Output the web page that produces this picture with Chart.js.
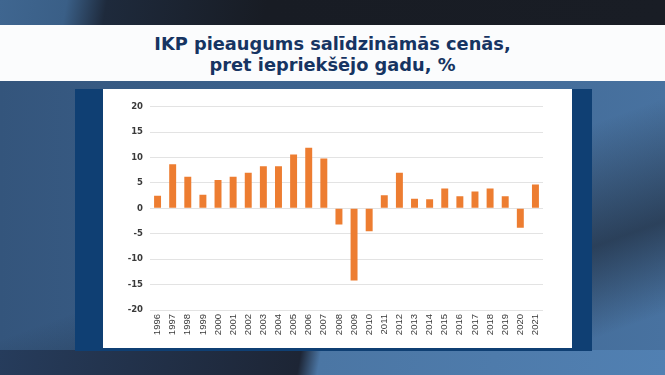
<!DOCTYPE html>
<html>
<head>
<meta charset="utf-8">
<script src="https://cdn.jsdelivr.net/npm/chart.js@4/dist/chart.umd.min.js"></script>
<style>
  html, body { margin: 0; padding: 0; }
  body {
    width: 665px; height: 375px; overflow: hidden; position: relative;
    background:
      linear-gradient(160deg, rgba(20,25,35,0) 55%, rgba(20,25,35,0.55) 75%, rgba(20,25,35,0) 90%),
      linear-gradient(90deg, #34557c 0%, #3c628d 40%, #4872a0 100%);
  }
  .topband {
    position: absolute; left: 0; top: 0; width: 665px; height: 25px;
    background: linear-gradient(100deg, #3f6690 0%, #3a5f87 10%, #1e2a3c 16%, #181c24 40%, #191d25 100%);
  }
  .botband {
    position: absolute; left: 0; top: 350px; width: 665px; height: 25px;
    background: linear-gradient(100deg, #263c5c 0%, #1d2535 45%, #4b76a4 48%, #5180b2 100%);
  }
  .header {
    position: absolute; left: 0; top: 25px; width: 665px; height: 56px;
    background: #fbfcfd;
    text-align: center;
    font-family: "DejaVu Sans", sans-serif; font-weight: bold;
    font-size: 17.8px; line-height: 21px; color: #163462;
    padding-top: 8px; box-sizing: border-box;
  }
  .frame {
    position: absolute; left: 75px; top: 89px; width: 517px; height: 262px;
    background: #0f3f73;
  }
  .panel {
    position: absolute; left: 103px; top: 89px; width: 469px; height: 259px;
    background: #ffffff;
  }
  .panel canvas { position: absolute; left: 0; top: 0; }
</style>
</head>
<body>
<div class="topband"></div>
<div class="botband"></div>
<div class="header">IKP pieaugums salīdzināmās cenās,<br>pret iepriekšējo gadu, %</div>
<div class="frame"></div>
<div class="panel"><canvas id="gdpChart" width="469" height="259"></canvas></div>
<script>
// years
const years = ['1996', '1997', '1998', '1999', '2000', '2001', '2002', '2003', '2004',
  '2005', '2006', '2007', '2008', '2009', '2010', '2011', '2012', '2013', '2014',
  '2015', '2016', '2017', '2018', '2019', '2020', '2021'];
// GDP growth, % vs previous year
const growth = [2.5, 8.7, 6.2, 2.7, 5.6, 6.2, 7.0, 8.3, 8.3,
  10.6, 11.9, 9.8, -3.2, -14.2, -4.5, 2.6, 7.0, 1.9, 1.8,
  3.9, 2.4, 3.3, 3.9, 2.4, -3.8, 4.7];
const yTicks = [20, 15, 10, 5, 0, -5, -10, -15, -20];

Chart.defaults.animation = false;

const ctx = document.getElementById('gdpChart').getContext('2d');
new Chart(ctx, {
  type: 'bar',
  data: {
    labels: years,
    datasets: [{
      data: growth,
      backgroundColor: '#ed7d31',
      barPercentage: 0.46,
      categoryPercentage: 1.0
    }]
  },
  options: {
    responsive: false,
    layout: { padding: { top: 17.7, right: 29, left: 0, bottom: 0 } },
    plugins: { legend: { display: false }, tooltip: { enabled: false } },
    scales: {
      x: {
        grid: { display: false, drawTicks: false },
        border: { display: false },
        ticks: {
          minRotation: 90, maxRotation: 90, autoSkip: false, padding: 4,
          color: '#3a3a3a', font: { family: 'Liberation Sans', size: 9.5 }
        },
        afterFit: function(axis) { axis.height = 38; }
      },
      y: {
        min: -20, max: 20,
        afterBuildTicks: function(axis) {
          axis.ticks = yTicks.map(v => ({ value: v }));
        },
        grid: { color: '#e3e3e3', lineWidth: 1, drawTicks: false },
        border: { display: false },
        ticks: {
          padding: 7, color: '#3a3a3a',
          font: { family: 'DejaVu Sans', size: 8.5, weight: 'bold' }
        },
        afterFit: function(axis) { axis.width = 47; }
      }
    }
  }
});
</script>
</body>
</html>
